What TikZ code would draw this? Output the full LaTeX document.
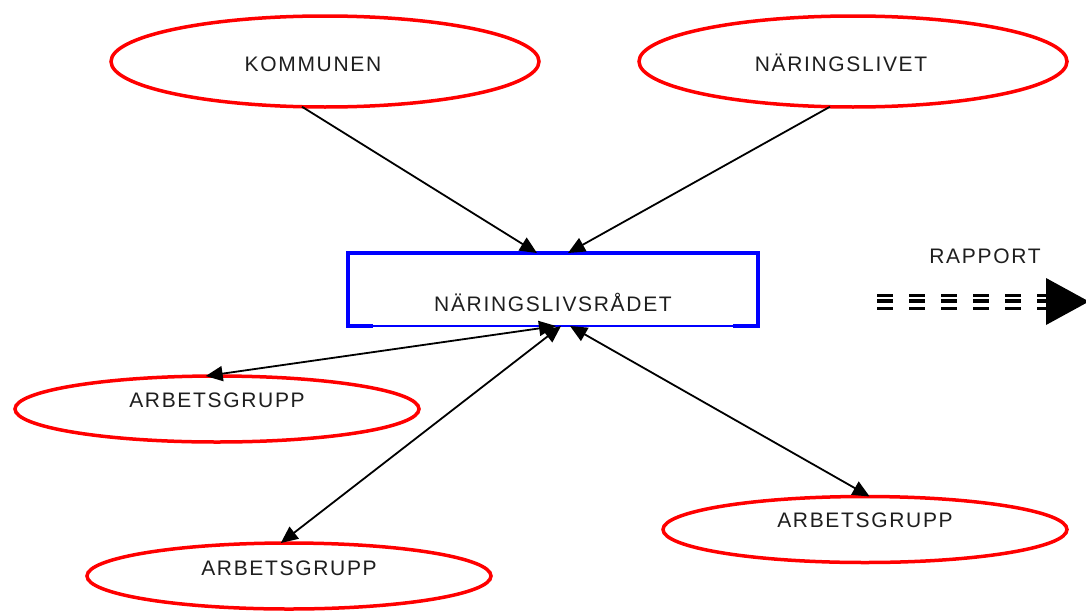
\documentclass[tikz,border=0pt]{standalone}
\usepackage{fontspec}
\setmainfont{Liberation Sans}
\usetikzlibrary{shapes.geometric,arrows.meta,calc}
\definecolor{ered}{RGB}{255,0,0}
\definecolor{bblue}{RGB}{0,0,255}
\definecolor{txt}{RGB}{30,30,30}
\begin{document}
\begin{tikzpicture}[x=1pt,y=-1pt,
  oval/.style={ellipse, draw=ered, line width=3.5pt, inner sep=0pt, outer sep=0pt},
  bigoval/.style={oval, minimum width=428pt, minimum height=91pt},
  smalloval/.style={oval, minimum width=404pt, minimum height=66pt},
  lbl/.style={anchor=base, inner sep=0pt, text=txt, font=\fontsize{21pt}{25pt}\selectfont\addfontfeature{LetterSpace=8}},
  conn/.style={line width=1.8pt, black},
  stripe/.style={dash pattern=on 16pt off 16pt, black}
]
\useasboundingbox (0,0) rectangle (1086,613);
% box
\node[draw=none, minimum width=410pt, minimum height=73pt, inner sep=0pt, outer sep=0pt] (box) at (553,289.5) {};
\draw[bblue, line width=3.5pt, line join=miter]
  ($(box.south west)+(25,0)$) -- (box.south west) -- (box.north west) -- (box.north east) -- (box.south east) -- ($(box.south east)+(-25,0)$);
\draw[bblue, line width=1.6pt] ($(box.south west)+(25,0)$) -- ($(box.south east)+(-25,0)$);
\node[lbl] (boxlbl) at (553,311) {NÄRINGSLIVSRÅDET};
% ellipses
\node[bigoval] (komm) at (325,61.5) {};
\node[bigoval] (narl) at (853,61.5) {};
\node[smalloval] (arb1) at (217,409) {};
\node[smalloval] (arb2) at (289,576) {};
\node[smalloval] (arb3) at (865,529.5) {};
\node[lbl] (kommlbl) at (313,71) {KOMMUNEN};
\node[lbl] (narllbl) at (841,71) {NÄRINGSLIVET};
\node[lbl] (arb1lbl) at (217,407) {ARBETSGRUPP};
\node[lbl] (arb2lbl) at (289,575) {ARBETSGRUPP};
\node[lbl] (arb3lbl) at (865,527) {ARBETSGRUPP};
\node[lbl] (rapplbl) at (985,263) {RAPPORT};
% connector ends on the box
\coordinate (bt1) at ($(box.north west)+(189,0)$);
\coordinate (bt2) at ($(box.north west)+(220,0)$);
\coordinate (bb1) at ($(box.south west)+(208,0)$);
\coordinate (bb2) at ($(box.south west)+(213,0)$);
\coordinate (bb3) at ($(box.south west)+(222,0)$);
% connectors
\draw[conn, -{Triangle[length=17pt,width=15pt]}] (komm.243) -- (bt1);
\draw[conn, -{Triangle[length=17pt,width=15pt]}] (narl.243) -- (bt2);
\draw[conn, {Triangle[length=17pt,width=15pt]}-{Triangle[length=17pt,width=15pt]}] (arb1.109) -- (bb1);
\draw[conn, {Triangle[length=17pt,width=15pt]}-{Triangle[length=17pt,width=15pt]}] (arb2.104) -- (bb2);
\draw[conn, {Triangle[length=17pt,width=15pt]}-{Triangle[length=17pt,width=15pt]}] (arb3.82) -- (bb3);
% RAPPORT arrow
\coordinate (rs) at (877,301.5);
\coordinate (re) at (1053,301.5);
\coordinate (rh) at (1046,301.5);
\coordinate (rtip) at (1089,301.5);
\draw[stripe, line width=2.7pt] ($(rs)+(0,-6.2)$) -- ($(re)+(0,-6.2)$);
\draw[stripe, line width=4.3pt] ($(rs)+(0,-0.3)$) -- ($(re)+(0,-0.3)$);
\draw[stripe, line width=3pt] ($(rs)+(0,7)$) -- ($(re)+(0,7)$);
\fill[black] ($(rh)+(0,-23.5)$) -- (rtip) -- ($(rh)+(0,23.5)$) -- cycle;
\end{tikzpicture}
\end{document}
